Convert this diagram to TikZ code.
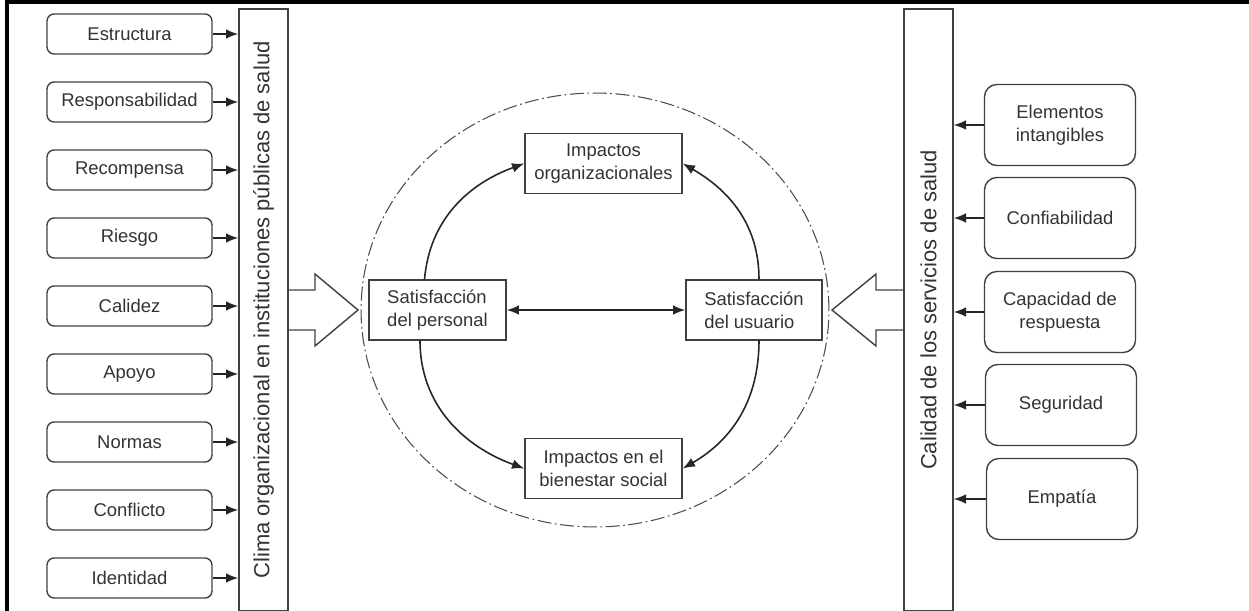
\documentclass[tikz,border=0pt]{standalone}
\usepackage{fontspec}
\setmainfont{Liberation Sans}
\usetikzlibrary{arrows.meta}

\newcommand{\factorfont}{\fontsize{10.5}{13}\selectfont}
\newcommand{\barlabelfont}{\fontsize{12.5}{15}\selectfont}

\tikzset{
    factor/.style={draw=black!75, line width=0.8pt, rounded corners=4pt,
                   minimum width=3.3cm, minimum height=0.8cm,
                   text=black!80, font=\factorfont},
    dimension/.style={draw=black!75, line width=0.8pt, rounded corners=7pt,
                      minimum width=3.02cm, minimum height=1.62cm, align=center,
                      text=black!80, font=\factorfont},
    result/.style={draw=black!75, line width=0.8pt, minimum height=1.2cm,
                   text=black!80, font=\factorfont},
    bar/.style={draw=black!75, line width=0.8pt, rotate=90,
                minimum width=12.04cm, minimum height=0.98cm,
                text=black!80, font=\barlabelfont},
    flow/.style={-{Latex[length=7pt,width=5.5pt]}, line width=0.9pt, draw=black!85}
}

\begin{document}
\begin{tikzpicture}[x=0.02cm, y=0.02cm]
    \useasboundingbox (0,0) rectangle (1249,-611);
    % frame
    \draw[line width=2.2pt] (7,-611) -- (7,-2) -- (1249,-2);

    % the two bars
    \node[bar] (clima) at (263.5,-310) {Clima organizacional en instituciones públicas de salud};
    \node[bar] (calidad) at (928.5,-310) {Calidad de los servicios de salud};

    % left factors
    \node[factor] (estructura) at (129.5,-34) {Estructura};
    \node[factor] (responsab) at (129.5,-102) {Responsabilidad};
    \node[factor] (recompensa) at (129.5,-170) {Recompensa};
    \node[factor] (riesgo) at (129.5,-238) {Riesgo};
    \node[factor] (calidez) at (129.5,-306) {Calidez};
    \node[factor] (apoyo) at (129.5,-374) {Apoyo};
    \node[factor] (normas) at (129.5,-442) {Normas};
    \node[factor] (conflicto) at (129.5,-510) {Conflicto};
    \node[factor] (identidad) at (129.5,-578) {Identidad};

    \draw[flow] (estructura) -- (estructura -| clima.north);
    \draw[flow] (responsab) -- (responsab -| clima.north);
    \draw[flow] (recompensa) -- (recompensa -| clima.north);
    \draw[flow] (riesgo) -- (riesgo -| clima.north);
    \draw[flow] (calidez) -- (calidez -| clima.north);
    \draw[flow] (apoyo) -- (apoyo -| clima.north);
    \draw[flow] (normas) -- (normas -| clima.north);
    \draw[flow] (conflicto) -- (conflicto -| clima.north);
    \draw[flow] (identidad) -- (identidad -| clima.north);

    % right dimensions
    \node[dimension] (elementos) at (1060,-125) {Elementos\\intangibles};
    \node[dimension] (confiab) at (1060,-218) {Confiabilidad};
    \node[dimension] (capacidad) at (1060,-312) {Capacidad de\\respuesta};
    \node[dimension] (seguridad) at (1061,-405) {Seguridad};
    \node[dimension] (empatia) at (1062,-499) {Empatía};

    \draw[flow] (elementos) -- (elementos -| calidad.south);
    \draw[flow] (confiab) -- (confiab -| calidad.south);
    \draw[flow] (capacidad) -- (capacidad -| calidad.south);
    \draw[flow] (seguridad) -- (seguridad -| calidad.south);
    \draw[flow] (empatia) -- (empatia -| calidad.south);

    % hollow arrows into the circle
    \draw[line width=0.8pt, draw=black!75] (288,-290) -- (315,-290) -- (315,-274) -- (358,-310)
        -- (315,-346) -- (315,-330) -- (288,-330);
    \draw[line width=0.8pt, draw=black!75] (903,-290) -- (876,-290) -- (876,-274) -- (832,-310)
        -- (876,-346) -- (876,-330) -- (903,-330);

    % circle
    \draw[black!70, line width=0.6pt, dash pattern=on 8pt off 2pt on 1pt off 2pt]
        (595,-310) ellipse [x radius=4.68cm, y radius=4.34cm];

    % centre boxes
    \node[result, minimum width=2.74cm, align=left] (satper) at (437.5,-310) {Satisfacción\\del personal};
    \node[result, minimum width=2.72cm, align=left] (satusu) at (754,-310) {Satisfacción\\del usuario};
    \node[result, minimum width=3.14cm, align=center] (imporg) at (603.5,-163.5) {Impactos\\organizacionales};
    \node[result, minimum width=3.14cm, align=center] (impbien) at (603.5,-468.5) {Impactos en el\\bienestar social};

    \draw[flow, {Latex[length=7pt,width=5.5pt]}-{Latex[length=7pt,width=5.5pt]}] (satper) -- (satusu);
    \draw[flow] ([xshift=-0.26cm]satper.north) to[out=85,in=200] (imporg.west);
    \draw[flow] ([xshift=0.1cm]satusu.north) to[out=90,in=-30] (imporg.east);
    \draw[flow] ([xshift=-0.35cm]satper.south) to[out=-90,in=160] (impbien.west);
    \draw[flow] ([xshift=0.1cm]satusu.south) to[out=-90,in=30] (impbien.east);
\end{tikzpicture}
\end{document}
